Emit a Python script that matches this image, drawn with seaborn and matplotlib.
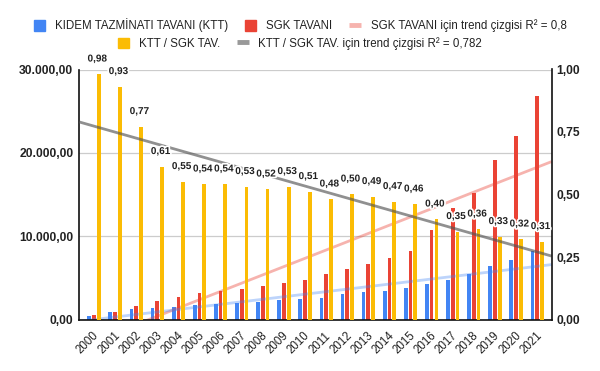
import numpy as np
import pandas as pd
import matplotlib
matplotlib.use("Agg")
import matplotlib.pyplot as plt
import seaborn as sns
from matplotlib.patches import Patch
from matplotlib.lines import Line2D
from matplotlib.transforms import ScaledTranslation
import matplotlib.patheffects as pe

# ---------------- data ----------------
years = [str(y) for y in range(2000, 2022)]
ktt = [480, 870, 1230, 1340, 1500, 1700, 1830, 1960, 2090, 2300, 2430,
       2620, 3030, 3250, 3440, 3830, 4300, 4730, 5430, 6380, 7120, 8280]
sgk = [490, 940, 1600, 2200, 2740, 3150, 3390, 3700, 4020, 4340, 4740,
       5410, 6080, 6680, 7370, 8280, 10710, 13330, 15220, 19190, 22070, 26830]
ratio = [0.98, 0.93, 0.77, 0.61, 0.55, 0.54, 0.54, 0.53, 0.52, 0.53, 0.51,
         0.48, 0.50, 0.49, 0.47, 0.46, 0.40, 0.35, 0.36, 0.33, 0.32, 0.31]
left_ticks = [0, 10000, 20000, 30000]
right_ticks = [0, 0.25, 0.5, 0.75, 1.0]

S_KTT = "KIDEM TAZMİNATI TAVANI (KTT)"
S_SGK = "SGK TAVANI"
S_RAT = "KTT / SGK TAV."
L_SGK_TR = "SGK TAVANI için trend çizgisi R² = 0,8"
L_RAT_TR = "KTT / SGK TAV. için trend çizgisi R² = 0,782"

C_BLUE, C_RED, C_YEL = "#4285F4", "#EA4335", "#FBBC04"

def tr_num(v, dec=2):
    s = f"{v:,.{dec}f}"
    return s.replace(",", "X").replace(".", ",").replace("X", ".")

# ---------------- style ----------------
sns.set_theme(style="white")
plt.rcParams["font.family"] = ["Liberation Sans", "DejaVu Sans"]

hue_order = [S_KTT, S_SGK, S_RAT]
palette = {S_KTT: C_BLUE, S_SGK: C_RED, S_RAT: C_YEL}
n = len(years)
zeros = [0.0] * n

# every hue level present on both axes (placeholder 0 = no visible bar) so the dodge matches
left_df = pd.DataFrame({"year": years * 3,
                        "series": [S_KTT] * n + [S_SGK] * n + [S_RAT] * n,
                        "value": ktt + sgk + zeros})
right_df = pd.DataFrame({"year": years * 3,
                         "series": [S_KTT] * n + [S_SGK] * n + [S_RAT] * n,
                         "value": zeros + zeros + ratio})

fig = plt.figure(figsize=(6, 3.71), dpi=100)
ax = fig.add_axes([79.3 / 600, (371 - 319.5) / 371, (551.7 - 79.3) / 600, 250 / 371])
ax2 = ax.twinx()

common = dict(x="year", y="value", hue="series", hue_order=hue_order, palette=palette,
              order=years, width=0.675, gap=0.22, legend=False, saturation=1,
              errorbar=None, linewidth=0)
sns.barplot(data=left_df, ax=ax, **common)
sns.barplot(data=right_df, ax=ax2, **common)

XL = (-0.696, 21.69)
ax.set_xlim(*XL)
ax2.set_xlim(*XL)

idx = np.arange(n)
sns.regplot(x=idx, y=np.array(sgk, float), scatter=False, ci=None, truncate=False, ax=ax,
            line_kws=dict(color=C_RED, alpha=0.4, lw=2, solid_capstyle="butt"))
sns.regplot(x=idx, y=np.array(ktt, float), scatter=False, ci=None, truncate=False, ax=ax,
            line_kws=dict(color=C_BLUE, alpha=0.35, lw=2, solid_capstyle="butt"))
sns.regplot(x=idx, y=np.array(ratio, float), scatter=False, ci=None, truncate=False, ax=ax2,
            line_kws=dict(color="#555555", alpha=0.65, lw=2, solid_capstyle="butt"))

ax.set_xlim(*XL)
ax2.set_xlim(*XL)
ax.set_ylim(0, 30000)
ax2.set_ylim(0, 1)

# axes cosmetics
for a in (ax, ax2):
    a.set_xlabel("")
    a.set_ylabel("")
ax.set_yticks(left_ticks, labels=[tr_num(v) for v in left_ticks],
              fontsize=8.7, fontweight="bold", color="#222222")
ax2.set_yticks(right_ticks, labels=[tr_num(v) for v in right_ticks],
               fontsize=8.7, fontweight="bold", color="#222222")
ax.yaxis.grid(True, color="#cccccc", lw=0.9)
ax.set_axisbelow(True)
ax2.grid(False)
ax.tick_params(axis="y", length=0, pad=4.3)
ax2.tick_params(axis="y", length=0, pad=3.6)
ax.tick_params(axis="x", length=0, pad=10.4)
ax2.tick_params(axis="x", length=0)

ax.set_xticks(idx, labels=years, rotation=45, ha="right", va="center",
              rotation_mode="anchor", fontsize=8.3, color="#222222")
for lab in ax.get_xticklabels():
    lab.set_transform(lab.get_transform() + ScaledTranslation(3 / 100, 0, fig.dpi_scale_trans))

ax.spines["top"].set_visible(False)
ax2.spines["top"].set_visible(False)
ax.spines["right"].set_visible(False)
ax2.spines["left"].set_visible(False)
ax2.spines["bottom"].set_visible(False)
for sp in (ax.spines["left"], ax.spines["bottom"], ax2.spines["right"]):
    sp.set_color("#111111")
    sp.set_linewidth(1.2)
ax.spines["bottom"].set_zorder(5)

# data labels above ratio bars
for bar in ax2.patches:
    h = bar.get_height()
    if not np.isfinite(h) or h <= 0:
        continue
    xc = bar.get_x() + bar.get_width() / 2
    ax2.annotate(tr_num(h), xy=(xc, h), xytext=(-1, 11.5), textcoords="offset points",
                 ha="center", va="center", fontsize=7.2, fontweight="bold", color="#222222",
                 path_effects=[pe.withStroke(linewidth=2.5, foreground="white")], zorder=10)

# legend (two centred rows)
row1 = [Patch(color=C_BLUE), Patch(color=C_RED),
        Line2D([], [], color=C_RED, alpha=0.4, lw=3.5, solid_capstyle="butt")]
row2 = [Patch(color=C_YEL),
        Line2D([], [], color="#555555", alpha=0.6, lw=3.5, solid_capstyle="butt")]
lkw = dict(loc="center", frameon=False, fontsize=8.3, handlelength=1.0, handleheight=1.0,
           handletextpad=0.84, columnspacing=1.48, borderpad=0, borderaxespad=0,
           labelcolor="#222222")
fig.legend(row1, [S_KTT, S_SGK, L_SGK_TR], ncol=3, bbox_to_anchor=(300 / 600, 1 - 25.5 / 371), **lkw)
fig.legend(row2, [S_RAT, L_RAT_TR], ncol=2, bbox_to_anchor=(300 / 600, 1 - 43.5 / 371), **lkw)

fig.savefig("out.png", dpi=100)
